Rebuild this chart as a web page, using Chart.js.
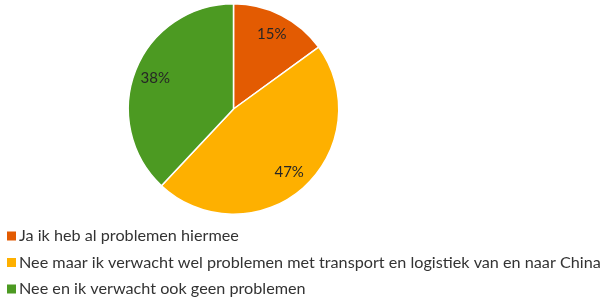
<!DOCTYPE html>
<html>
<head>
<meta charset="utf-8">
<script src="https://cdn.jsdelivr.net/npm/chart.js@4.4.1/dist/chart.umd.min.js"></script>
<style>
html,body{margin:0;padding:0;background:#fff;}
#wrap{width:600px;height:303px;position:relative;}
</style>
</head>
<body>
<div id="wrap"><canvas id="c" width="600" height="303"></canvas></div>
<script>
const categories = [
  "Ja ik heb al problemen hiermee",
  "Nee maar ik verwacht wel problemen met transport en logistiek van en naar China",
  "Nee en ik verwacht ook geen problemen"
];
const values = [15, 47, 38];
const colors = ["#E35B02", "#FEB000", "#4C9A22"];

const labelFont = "15px Lato, 'Open Sans', sans-serif";
const legendFont = "16.2px Lato, 'Open Sans', sans-serif";

const pctLabels = {
  id: 'pctLabels',
  afterDatasetsDraw(chart) {
    const ctx = chart.ctx;
    const meta = chart.getDatasetMeta(0);
    const total = values.reduce((a, b) => a + b, 0);
    ctx.save();
    ctx.font = labelFont;
    ctx.fillStyle = "#262626";
    ctx.textAlign = "center";
    ctx.textBaseline = "middle";
    meta.data.forEach((arc, i) => {
      const p = arc.getProps(['x', 'y', 'startAngle', 'endAngle', 'outerRadius'], true);
      const mid = (p.startAngle + p.endAngle) / 2;
      const r = p.outerRadius * 0.8;
      ctx.fillText(Math.round(values[i] / total * 100) + "%", p.x + Math.cos(mid) * r, p.y + Math.sin(mid) * r);
    });
    ctx.restore();
  }
};

const customLegend = {
  id: 'customLegend',
  afterDraw(chart) {
    const ctx = chart.ctx;
    ctx.save();
    ctx.font = legendFont;
    ctx.textBaseline = "middle";
    ctx.textAlign = "left";
    categories.forEach((c, i) => {
      const y = 236 + i * 26.5;
      ctx.fillStyle = colors[i];
      ctx.fillRect(7, y - 4.5, 9, 9);
      ctx.fillStyle = "#333333";
      ctx.fillText(c, 19, y);
    });
    ctx.restore();
  }
};

new Chart(document.getElementById('c'), {
  type: 'pie',
  data: {
    labels: categories,
    datasets: [{
      data: values,
      backgroundColor: colors,
      borderColor: "#ffffff",
      borderWidth: 1.5
    }]
  },
  options: {
    responsive: false,
    animation: false,
    layout: { padding: { left: 126, right: 259, top: 3, bottom: 88 } },
    plugins: {
      legend: { display: false },
      tooltip: { enabled: false }
    }
  },
  plugins: [pctLabels, customLegend]
});
</script>
</body>
</html>
